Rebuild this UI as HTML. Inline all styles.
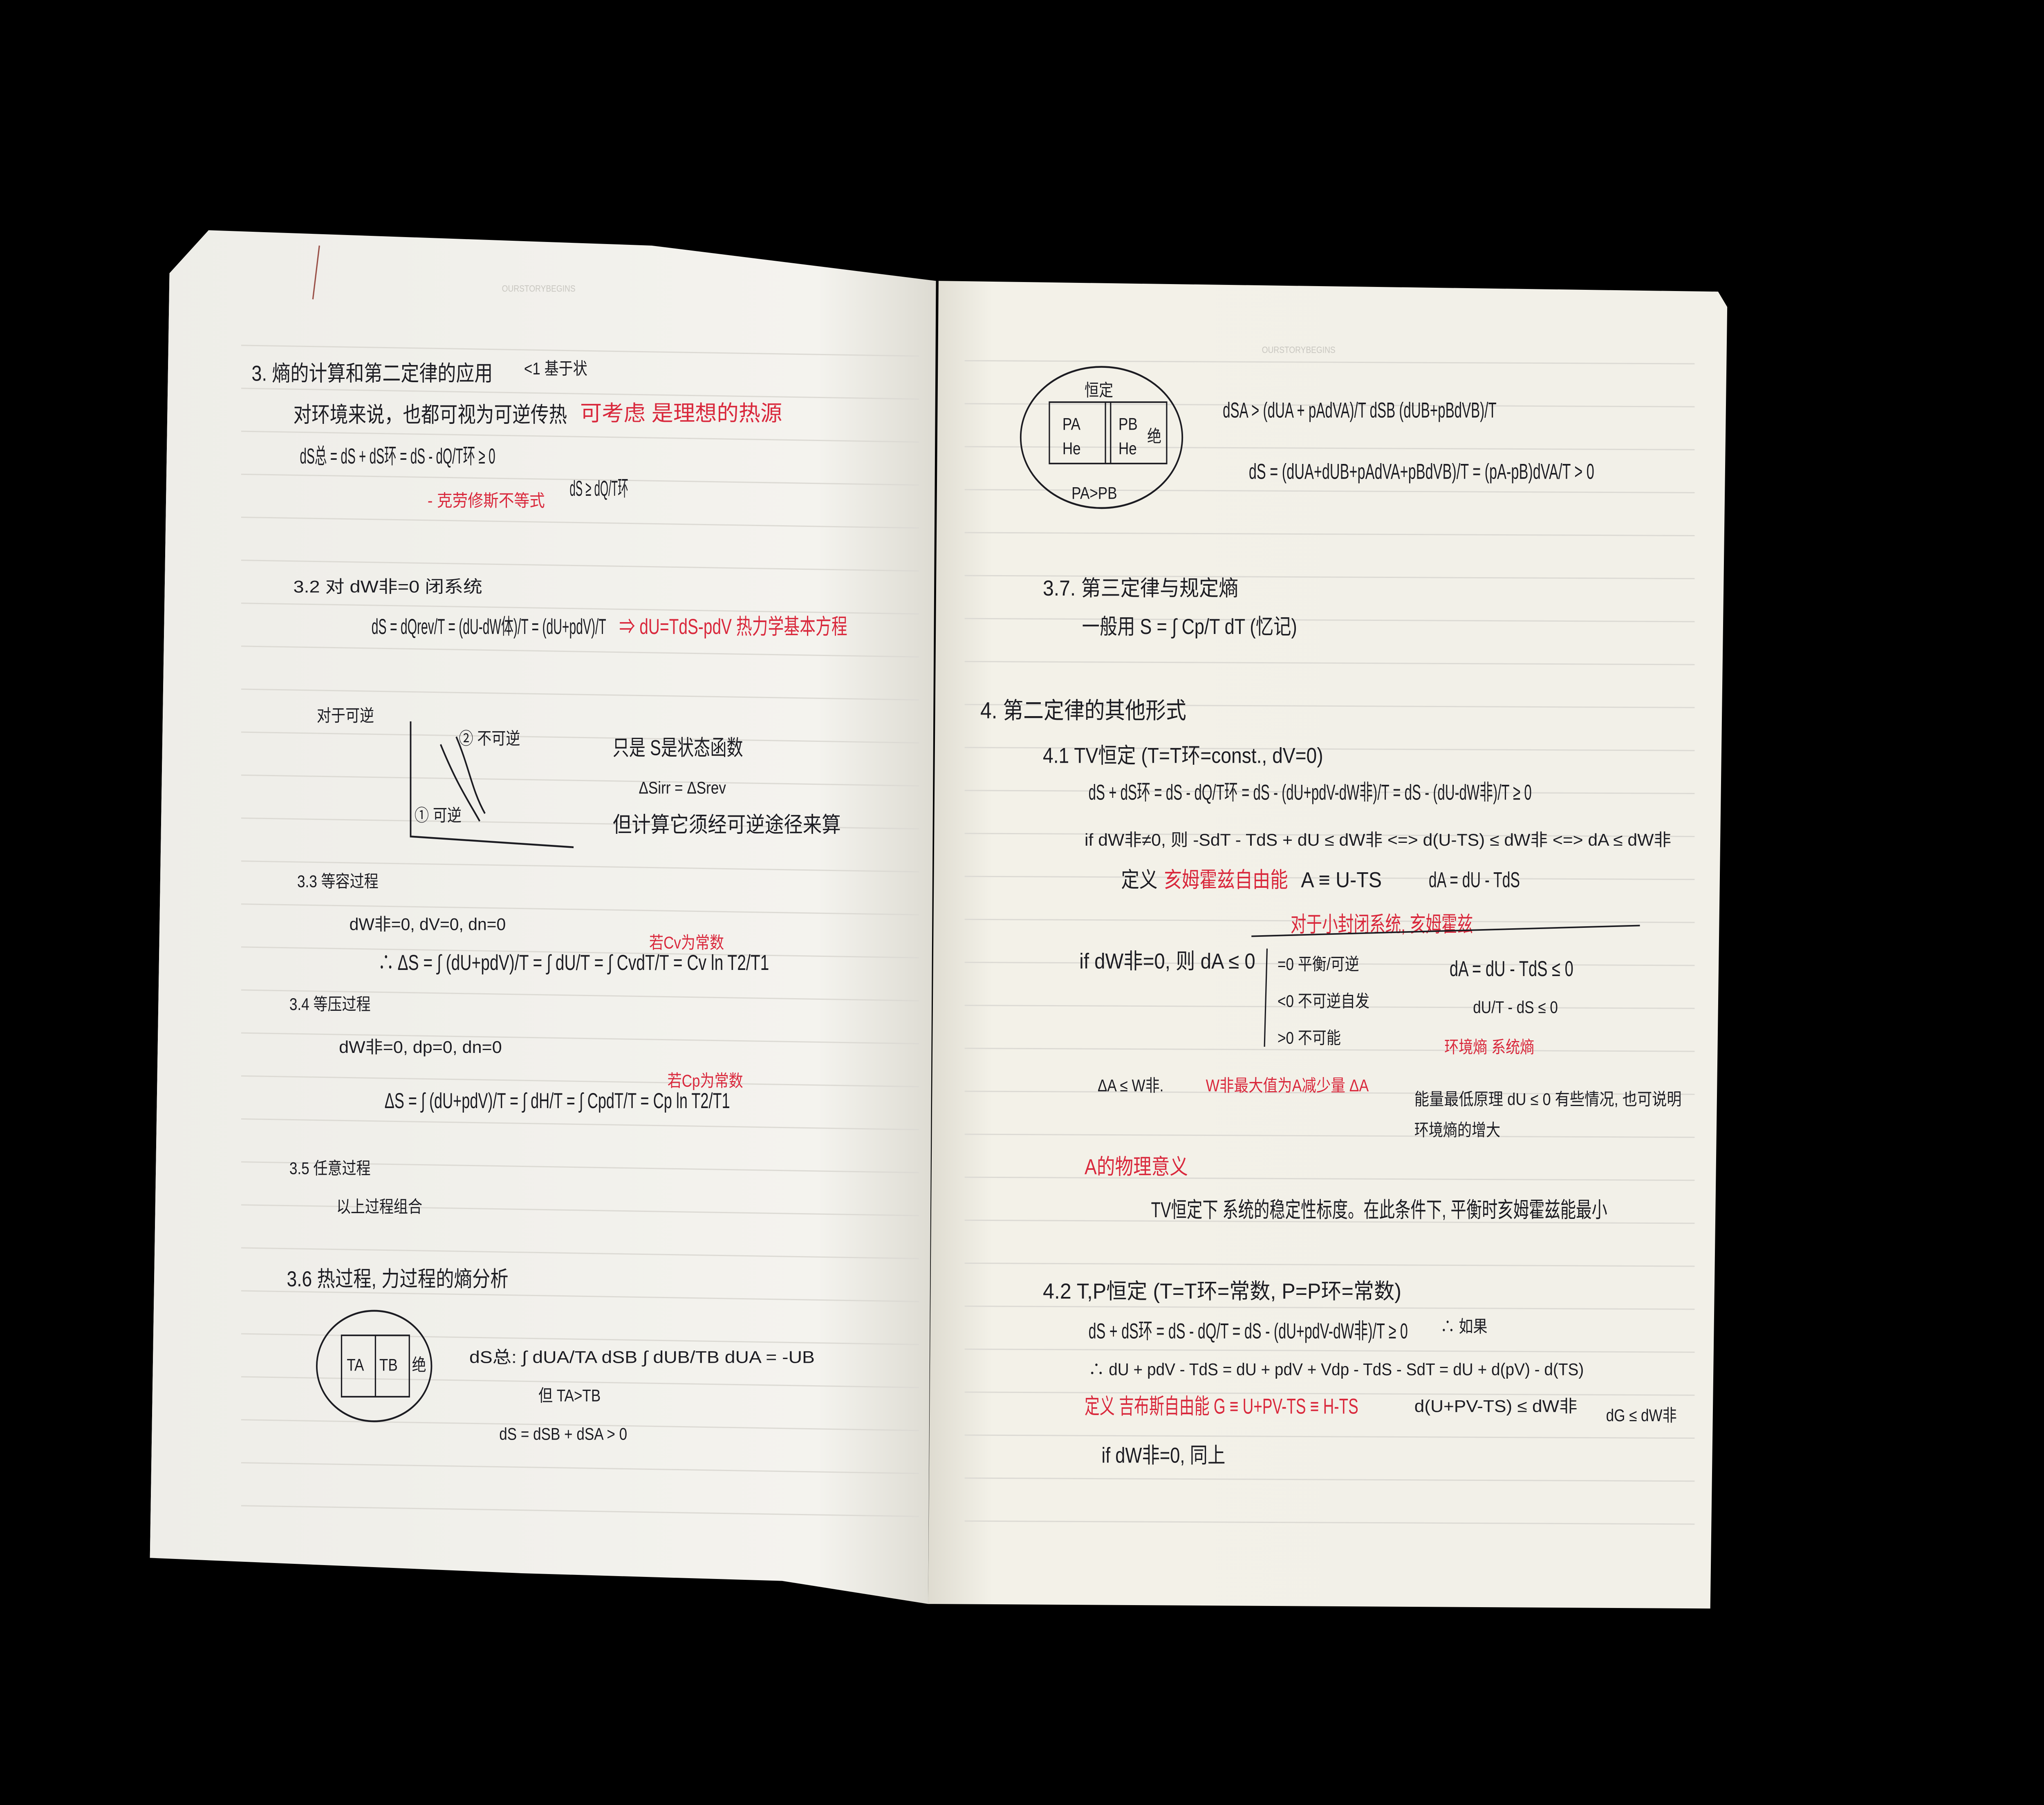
<!DOCTYPE html>
<html><head><meta charset="utf-8"><style>
html,body{margin:0;padding:0;background:#000;width:100vw;height:100vh;overflow:hidden;}
svg{display:block;width:100vw;height:100vh;overflow:hidden;position:absolute;left:0;top:0;}
text{font-family:"Liberation Sans","Noto Sans CJK SC",sans-serif;fill:#1c1c22;font-size:14px;}
.r{fill:#d9283c;}
.s{font-size:11px;}
</style></head><body>
<svg viewBox="0 0 1568 1176" preserveAspectRatio="none" xmlns="http://www.w3.org/2000/svg">
<defs>
<linearGradient id="gl" x1="0" x2="1" y1="0" y2="0">
<stop offset="0" stop-color="#eeede8"/><stop offset="0.85" stop-color="#f4f3ee"/><stop offset="1" stop-color="#dddbd2"/>
</linearGradient>
<linearGradient id="gr" x1="0" x2="1" y1="0" y2="0">
<stop offset="0" stop-color="#dedbd0"/><stop offset="0.08" stop-color="#f3f1e8"/><stop offset="1" stop-color="#f2f0e8"/>
</linearGradient>
</defs>
<rect width="1568" height="1176" fill="#000"/>
<polygon points="130,178 162,172 150,1010 115,1015" fill="#e9e8e4"/>
<polygon points="160,150 500,160 718,183 712,1045 600,1030 400,1025 115,1015 130,178" fill="url(#gl)"/>
<polygon points="720,183 1318,190 1325,200 1312,1048 712,1045" fill="url(#gr)"/>
<g stroke="#dcdad4" stroke-width="0.8">
<line x1="185" y1="225" x2="705" y2="232"/><line x1="185" y1="253" x2="705" y2="260"/><line x1="185" y1="281" x2="705" y2="288"/>
<line x1="185" y1="309" x2="705" y2="316"/><line x1="185" y1="337" x2="705" y2="344"/><line x1="185" y1="365" x2="705" y2="372"/>
<line x1="185" y1="393" x2="705" y2="400"/><line x1="185" y1="421" x2="705" y2="428"/><line x1="185" y1="449" x2="705" y2="456"/>
<line x1="185" y1="477" x2="705" y2="484"/><line x1="185" y1="505" x2="705" y2="512"/><line x1="185" y1="533" x2="705" y2="540"/>
<line x1="185" y1="561" x2="705" y2="568"/><line x1="185" y1="589" x2="705" y2="596"/><line x1="185" y1="617" x2="705" y2="624"/>
<line x1="185" y1="645" x2="705" y2="652"/><line x1="185" y1="673" x2="705" y2="680"/><line x1="185" y1="701" x2="705" y2="708"/>
<line x1="185" y1="729" x2="705" y2="736"/><line x1="185" y1="757" x2="705" y2="764"/><line x1="185" y1="785" x2="705" y2="792"/>
<line x1="185" y1="813" x2="705" y2="820"/><line x1="185" y1="841" x2="705" y2="848"/><line x1="185" y1="869" x2="705" y2="876"/>
<line x1="185" y1="897" x2="705" y2="904"/><line x1="185" y1="925" x2="705" y2="932"/><line x1="185" y1="953" x2="705" y2="960"/>
<line x1="185" y1="981" x2="705" y2="988"/>
</g>
<g stroke="#dcdad4" stroke-width="0.8">
<line x1="740" y1="235" x2="1300" y2="237"/><line x1="740" y1="263" x2="1300" y2="265"/><line x1="740" y1="291" x2="1300" y2="293"/>
<line x1="740" y1="319" x2="1300" y2="321"/><line x1="740" y1="347" x2="1300" y2="349"/><line x1="740" y1="375" x2="1300" y2="377"/>
<line x1="740" y1="403" x2="1300" y2="405"/><line x1="740" y1="431" x2="1300" y2="433"/><line x1="740" y1="459" x2="1300" y2="461"/>
<line x1="740" y1="487" x2="1300" y2="489"/><line x1="740" y1="515" x2="1300" y2="517"/><line x1="740" y1="543" x2="1300" y2="545"/>
<line x1="740" y1="571" x2="1300" y2="573"/><line x1="740" y1="599" x2="1300" y2="601"/><line x1="740" y1="627" x2="1300" y2="629"/>
<line x1="740" y1="655" x2="1300" y2="657"/><line x1="740" y1="683" x2="1300" y2="685"/><line x1="740" y1="711" x2="1300" y2="713"/>
<line x1="740" y1="739" x2="1300" y2="741"/><line x1="740" y1="767" x2="1300" y2="769"/><line x1="740" y1="795" x2="1300" y2="797"/>
<line x1="740" y1="823" x2="1300" y2="825"/><line x1="740" y1="851" x2="1300" y2="853"/><line x1="740" y1="879" x2="1300" y2="881"/>
<line x1="740" y1="907" x2="1300" y2="909"/><line x1="740" y1="935" x2="1300" y2="937"/><line x1="740" y1="963" x2="1300" y2="965"/>
<line x1="740" y1="991" x2="1300" y2="993"/>
</g>
<text x="385" y="190" style="font-size:6px;fill:#c8c6c0">OURSTORYBEGINS</text>
<text x="968" y="230" style="font-size:6px;fill:#c8c6c0">OURSTORYBEGINS</text>
<line x1="245" y1="160" x2="240" y2="195" stroke="#9a5048" stroke-width="1"/>

<!-- LEFT PAGE -->
<text x="193" y="248" textLength="185" lengthAdjust="spacingAndGlyphs">3. 熵的计算和第二定律的应用</text><text x="402" y="244" class="s">&lt;1 基于状</text>
<text x="225" y="275" textLength="210" lengthAdjust="spacingAndGlyphs">对环境来说，也都可视为可逆传热</text><text x="445" y="274" class="r" textLength="155" lengthAdjust="spacingAndGlyphs">可考虑 是理想的热源</text>
<text x="230" y="302" textLength="150" lengthAdjust="spacingAndGlyphs">dS总 = dS + dS环 = dS - dQ/T环 ≥ 0</text>
<text x="328" y="330" class="r s" textLength="90" lengthAdjust="spacingAndGlyphs">- 克劳修斯不等式</text><text x="437" y="323" textLength="45" lengthAdjust="spacingAndGlyphs">dS ≥ dQ/T环</text>
<text x="225" y="386" class="s" textLength="145" lengthAdjust="spacingAndGlyphs">3.2 对 dW非=0 闭系统</text>
<text x="285" y="413" textLength="180" lengthAdjust="spacingAndGlyphs">dS = dQrev/T = (dU-dW体)/T = (dU+pdV)/T</text>
<text x="475" y="413" class="r" textLength="175" lengthAdjust="spacingAndGlyphs">⇒ dU=TdS-pdV 热力学基本方程</text>
<text x="243" y="470" class="s">对于可逆</text>
<g stroke="#1c1c22" fill="none" stroke-width="1.2">
<path d="M315,470 L315,545 L440,552"/><path d="M338,485 C350,510 358,520 368,535"/><path d="M350,480 C360,500 362,515 372,530"/>
</g>
<text x="352" y="485" class="s">② 不可逆</text><text x="318" y="535" class="s">① 可逆</text>
<text x="470" y="492" textLength="100" lengthAdjust="spacingAndGlyphs">只是 S是状态函数</text><text x="490" y="517" class="s">ΔSirr = ΔSrev</text>
<text x="470" y="542" textLength="175" lengthAdjust="spacingAndGlyphs">但计算它须经可逆途径来算</text>
<text x="228" y="578" class="s">3.3 等容过程</text>
<text x="268" y="606" class="s" textLength="120" lengthAdjust="spacingAndGlyphs">dW非=0, dV=0, dn=0</text>
<text x="498" y="618" class="r s">若Cv为常数</text>
<text x="290" y="632" textLength="300" lengthAdjust="spacingAndGlyphs">∴ ΔS = ∫ (dU+pdV)/T = ∫ dU/T = ∫ CvdT/T = Cv ln T2/T1</text>
<text x="222" y="658" class="s">3.4 等压过程</text>
<text x="260" y="686" class="s" textLength="125" lengthAdjust="spacingAndGlyphs">dW非=0, dp=0, dn=0</text>
<text x="512" y="708" class="r s">若Cp为常数</text>
<text x="295" y="722" textLength="265" lengthAdjust="spacingAndGlyphs">ΔS = ∫ (dU+pdV)/T = ∫ dH/T = ∫ CpdT/T = Cp ln T2/T1</text>
<text x="222" y="765" class="s">3.5 任意过程</text>
<text x="258" y="790" class="s">以上过程组合</text>
<text x="220" y="838" textLength="170" lengthAdjust="spacingAndGlyphs">3.6 热过程, 力过程的熵分析</text>
<ellipse cx="287" cy="890" rx="44" ry="36" fill="none" stroke="#1c1c22" stroke-width="1.2"/>
<rect x="262" y="870" width="52" height="40" fill="none" stroke="#1c1c22"/>
<line x1="288" y1="870" x2="288" y2="910" stroke="#1c1c22"/>
<text x="266" y="893" class="s">TA</text><text x="291" y="893" class="s">TB</text><text x="316" y="893" class="s">绝</text>
<text x="360" y="888" class="s" textLength="265" lengthAdjust="spacingAndGlyphs">dS总: ∫ dUA/TA   dSB ∫ dUB/TB    dUA = -UB</text>
<text x="413" y="913" class="s">但 TA&gt;TB</text>
<text x="383" y="938" class="s">dS = dSB + dSA &gt; 0</text>

<!-- RIGHT PAGE -->
<ellipse cx="845" cy="285" rx="62" ry="46" fill="none" stroke="#1c1c22" stroke-width="1.2"/>
<rect x="805" y="262" width="90" height="40" fill="none" stroke="#1c1c22"/>
<line x1="848" y1="262" x2="848" y2="302" stroke="#1c1c22"/><line x1="852" y1="262" x2="852" y2="302" stroke="#1c1c22"/>
<text x="832" y="258" class="s">恒定</text><text x="815" y="280" class="s">PA</text><text x="858" y="280" class="s">PB</text>
<text x="815" y="296" class="s">He</text><text x="858" y="296" class="s">He</text><text x="880" y="288" class="s">绝</text>
<text x="822" y="325" class="s">PA&gt;PB</text>
<text x="938" y="272" textLength="210" lengthAdjust="spacingAndGlyphs">dSA &gt; (dUA + pAdVA)/T    dSB (dUB+pBdVB)/T</text>
<text x="958" y="312" textLength="265" lengthAdjust="spacingAndGlyphs">dS = (dUA+dUB+pAdVA+pBdVB)/T = (pA-pB)dVA/T &gt; 0</text>
<text x="800" y="388" textLength="150" lengthAdjust="spacingAndGlyphs">3.7. 第三定律与规定熵</text>
<text x="830" y="413" textLength="165" lengthAdjust="spacingAndGlyphs">一般用 S = ∫ Cp/T dT (忆记)</text>
<text x="752" y="468" style="font-size:15px" textLength="158" lengthAdjust="spacingAndGlyphs">4. 第二定律的其他形式</text>
<text x="800" y="497" textLength="215" lengthAdjust="spacingAndGlyphs">4.1 TV恒定 (T=T环=const., dV=0)</text>
<text x="835" y="521" textLength="340" lengthAdjust="spacingAndGlyphs">dS + dS环 = dS - dQ/T环 = dS - (dU+pdV-dW非)/T = dS - (dU-dW非)/T ≥ 0</text>
<text x="832" y="551" class="s" textLength="450" lengthAdjust="spacingAndGlyphs">if dW非≠0, 则     -SdT - TdS + dU ≤ dW非 &lt;=&gt; d(U-TS) ≤ dW非 &lt;=&gt; dA ≤ dW非</text>
<text x="860" y="578">定义</text><text x="893" y="578" class="r" textLength="95" lengthAdjust="spacingAndGlyphs">亥姆霍兹自由能</text><text x="998" y="578" textLength="62" lengthAdjust="spacingAndGlyphs">A ≡ U-TS</text><text x="1096" y="578" textLength="70" lengthAdjust="spacingAndGlyphs">dA = dU - TdS</text>
<text x="990" y="607" class="r" textLength="140" lengthAdjust="spacingAndGlyphs">对于小封闭系统, 亥姆霍兹</text>
<line x1="960" y1="610" x2="1258" y2="603" stroke="#1c1c22"/>
<text x="828" y="631" textLength="135" lengthAdjust="spacingAndGlyphs">if dW非=0, 则 dA ≤ 0</text>
<path d="M972,618 L970,682" stroke="#1c1c22" fill="none"/>
<text x="980" y="632" class="s">=0   平衡/可逆</text><text x="980" y="656" class="s">&lt;0   不可逆自发</text><text x="980" y="680" class="s">&gt;0   不可能</text>
<text x="1112" y="636" textLength="95" lengthAdjust="spacingAndGlyphs">dA = dU - TdS ≤ 0</text><text x="1130" y="660" class="s">dU/T - dS ≤ 0</text>
<text x="1108" y="686" class="r s">环境熵   系统熵</text>
<text x="842" y="711" class="s">ΔA ≤ W非.</text><text x="925" y="711" class="r s" textLength="125" lengthAdjust="spacingAndGlyphs">W非最大值为A减少量 ΔA</text>
<text x="1085" y="720" class="s" textLength="205" lengthAdjust="spacingAndGlyphs">能量最低原理 dU ≤ 0 有些情况, 也可说明</text>
<text x="1085" y="740" class="s">环境熵的增大</text>
<text x="832" y="765" class="r">A的物理意义</text>
<text x="883" y="793" textLength="350" lengthAdjust="spacingAndGlyphs">TV恒定下 系统的稳定性标度。在此条件下, 平衡时亥姆霍兹能最小</text>
<text x="800" y="846" textLength="275" lengthAdjust="spacingAndGlyphs">4.2 T,P恒定 (T=T环=常数, P=P环=常数)</text>
<text x="835" y="872" textLength="245" lengthAdjust="spacingAndGlyphs">dS + dS环 = dS - dQ/T = dS - (dU+pdV-dW非)/T ≥ 0</text><text x="1105" y="868" class="s">∴ 如果</text>
<text x="835" y="896" class="s" textLength="380" lengthAdjust="spacingAndGlyphs">∴ dU + pdV - TdS = dU + pdV + Vdp - TdS - SdT = dU + d(pV) - d(TS)</text>
<text x="832" y="921" class="r" textLength="210" lengthAdjust="spacingAndGlyphs">定义 吉布斯自由能 G ≡ U+PV-TS ≡ H-TS</text>
<text x="1085" y="920" class="s" textLength="125" lengthAdjust="spacingAndGlyphs">d(U+PV-TS) ≤ dW非</text><text x="1232" y="926" class="s">dG ≤ dW非</text>
<text x="845" y="953" textLength="95" lengthAdjust="spacingAndGlyphs">if dW非=0, 同上</text>
</svg>
</body></html>
